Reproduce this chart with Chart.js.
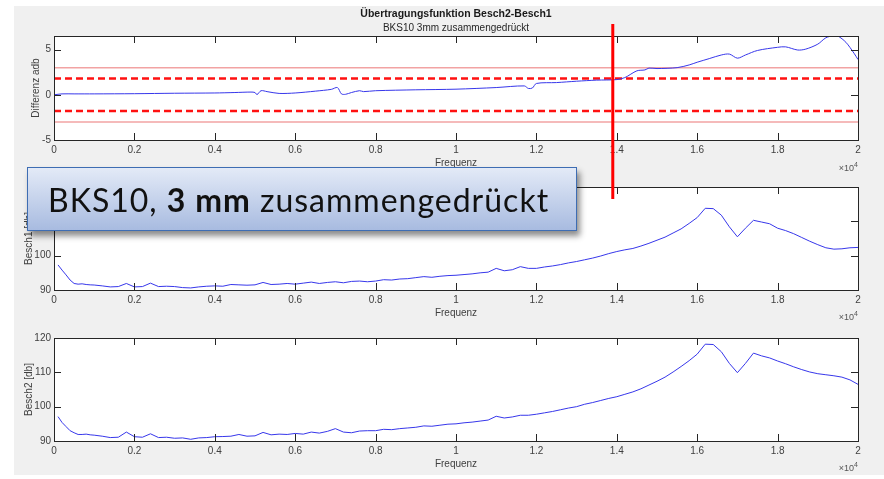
<!DOCTYPE html>
<html>
<head>
<meta charset="utf-8">
<title>Übertragungsfunktion Besch2-Besch1</title>
<script src="https://cdn.jsdelivr.net/npm/chart.js@4.4.0/dist/chart.umd.min.js"></script>
<style>
  body { margin: 0; width: 884px; height: 479px; background: #fff; position: relative; overflow: hidden;
         font-family: "Liberation Sans", Arial, sans-serif; }
  #figure { position: absolute; left: 14px; top: 6px; width: 870px; height: 469px; background: #f0f0f0; }
  canvas { position: absolute; left: 14px; }
  #c1 { top: 6px; }
  #c2 { top: 176px; }
  #c3 { top: 322px; }
  .title { position: absolute; left: 0; width: 912px; text-align: center; color: #1a1a1a; white-space: nowrap; }
  #mainTitle { top: 7px; font-size: 10.5px; font-weight: bold; line-height: 12px; }
  #subTitle { top: 22px; font-size: 10px; line-height: 12px; color: #262626; }
  .exp { position: absolute; right: 26px; font-size: 9px; line-height: 10px; color: #555; }
  .exp sup { font-size: 7px; vertical-align: 4px; }
  #note { position: absolute; left: 27px; top: 167px; width: 550px; height: 64px; box-sizing: border-box;
          border: 1.5px solid #3e6db3; background: linear-gradient(#e3eaf7, #a8bbe0);
          box-shadow: 3px 5px 6px rgba(0, 0, 0, 0.45); display: flex; align-items: center;
          padding-left: 20px; font-family: Lato, "Open Sans", sans-serif; font-size: 32px; letter-spacing: 1px;
          color: #111; white-space: nowrap; }
</style>
</head>
<body>
<div id="figure"></div>
<canvas id="c1" width="870" height="170"></canvas>
<canvas id="c2" width="870" height="146"></canvas>
<canvas id="c3" width="870" height="153"></canvas>
<div id="mainTitle" class="title">Übertragungsfunktion Besch2-Besch1</div>
<div id="subTitle" class="title">BKS10 3mm zusammengedrückt</div>
<div class="exp" style="top:160px">×10<sup>4</sup></div>
<div class="exp" style="top:309px">×10<sup>4</sup></div>
<div class="exp" style="top:460px">×10<sup>4</sup></div>
<div id="note">BKS10,&nbsp;<b>3 mm</b>&nbsp;zusammengedrückt</div>

<script>
// x axis (Hz), labels shown in units of 10^4
const xTickValues = [0, 2000, 4000, 6000, 8000, 10000, 12000, 14000, 16000, 18000, 20000];
const xTickLabels = ["0", "0.2", "0.4", "0.6", "0.8", "1", "1.2", "1.4", "1.6", "1.8", "2"];
const diffTicks = [-5, 0, 5];
const beschTicks = [90, 100, 110, 120];

// Differenz Besch2 - Besch1
const diffFreq = [0, 200, 500, 1000, 2000, 3000, 4000, 4500, 4900, 5000, 5050, 5150, 5300, 5600, 6000,
  6500, 6900, 7050, 7150, 7250, 7400, 7600, 7700, 8000, 9000, 10000, 11000, 11700, 11800, 11900,
  12000, 12500, 13000, 13500, 14000, 14200, 14500, 14700, 14800, 15000, 15500, 15800, 16000, 16300,
  16600, 16800, 17000, 17200, 17500, 18000, 18200, 18500, 18700, 19000, 19200, 19400, 19500, 19700,
  19900, 20000];
const diffValues = [0.0, 0.1, 0.1, 0.1, 0.12, 0.17, 0.2, 0.25, 0.3, 0.25, 0.02, 0.45, 0.35, 0.15, 0.2,
  0.4, 0.6, 0.8, 0.1, 0.05, 0.25, 0.45, 0.35, 0.45, 0.55, 0.62, 0.8, 0.98, 0.7, 0.75,
  1.25, 1.35, 1.5, 1.62, 1.68, 1.9, 2.65, 2.75, 2.95, 2.9, 3.0, 3.3, 3.6, 4.0,
  4.4, 4.5, 4.05, 4.4, 4.9, 5.25, 5.3, 4.95, 5.05, 5.6, 6.3, 6.55, 6.5, 5.8,
  4.6, 3.9];
const outerLimits = [3, -3];
const innerLimits = [1.8, -1.8];
const markerFreq = 13900;

// Besch1 / Besch2 spectra
const beschFreq = [100, 200, 300, 400, 500, 600, 700, 800, 900, 1000,
  1200, 1400, 1600, 1800, 2000, 2200, 2400, 2600, 2800, 3000,
  3200, 3400, 3600, 3800, 4000, 4200, 4400, 4600, 4800, 5000,
  5200, 5400, 5600, 5800, 6000, 6200, 6400, 6600, 6800, 7000,
  7200, 7400, 7600, 7800, 8000, 8200, 8400, 8600, 8800, 9000,
  9200, 9400, 9600, 9800, 10000, 10200, 10400, 10600, 10800, 11000,
  11200, 11400, 11600, 11800, 12000, 12200, 12400, 12600, 12800, 13000,
  13200, 13400, 13600, 13800, 14000, 14200, 14400, 14600, 14800, 15000,
  15200, 15400, 15600, 15800, 16000, 16200, 16400, 16600, 16800, 17000,
  17200, 17400, 17600, 17800, 18000, 18200, 18400, 18600, 18800, 19000,
  19200, 19400, 19600, 19800, 20000];
const besch1Values = [97.3, 95.8, 94.4, 92.9, 91.9, 91.7, 91.8, 91.6, 91.5, 91.45,
  91.2, 90.9, 91.0, 91.9, 90.9, 91.0, 92.0, 91.0, 91.1, 91.0,
  90.7, 90.6, 90.9, 91.1, 91.2, 91.1, 91.6, 91.5, 91.4, 91.5,
  92.2, 91.6, 91.7, 91.9, 91.7, 92.0, 92.3, 91.9, 92.2, 92.4,
  92.1, 92.5, 92.6, 92.4, 92.6, 93.0, 92.9, 93.2, 93.3, 93.6,
  93.9, 93.7, 94.0, 94.2, 94.3, 94.5, 94.7, 95.0, 95.2, 96.3,
  95.6, 95.9, 96.8, 96.3, 96.3, 96.7, 97.0, 97.4, 97.9, 98.3,
  98.8, 99.3, 99.9, 100.6, 101.2, 101.7, 102.1, 102.8, 103.6, 104.5,
  105.4, 106.6, 107.8, 109.4, 111.1, 113.8, 113.7, 111.8, 108.4, 105.5,
  108.0, 110.3, 109.8, 109.3, 108.0, 107.3, 106.4, 105.3, 104.2, 103.2,
  102.3, 101.9, 102.0, 102.3, 102.4];
const besch2Values = [97.1, 95.4, 94.2, 93.0, 92.4, 91.9, 91.9, 92.0, 91.8, 91.7,
  91.4, 91.0, 91.1, 92.6, 91.25, 91.1, 92.1, 91.0, 91.1, 90.8,
  90.9, 90.5, 90.9, 91.0, 91.25, 91.3, 91.4, 91.9, 91.4, 91.5,
  92.5, 91.8, 92.0, 91.9, 92.2, 92.0, 92.6, 92.3, 92.8, 93.6,
  92.6, 92.4, 92.9, 93.0, 93.0, 93.4, 93.3, 93.6, 93.8, 94.0,
  94.4, 94.3, 94.6, 94.9, 95.0, 95.3, 95.5, 95.8, 96.1, 97.2,
  96.7, 97.0, 97.5, 97.5, 97.8, 98.2, 98.6, 99.1, 99.6, 100.0,
  100.7, 101.2, 101.8, 102.4, 102.9, 103.6, 104.3, 105.2, 106.3, 107.4,
  108.6, 110.1, 111.7, 113.4, 115.3, 118.2, 118.1, 116.0, 112.6, 109.9,
  112.6, 115.6, 114.8, 114.2, 113.3, 112.5, 111.6, 110.8, 110.1, 109.6,
  109.3, 109.0, 108.6, 107.8, 106.5];

const axisColor = "#262626";
const textColor = "#404040";
const curveColor = "rgb(55, 55, 235)";
const tickFont = { family: "Liberation Sans", size: 10 };

function toPoints(freqs, values) {
  return freqs.map((f, i) => ({ x: f, y: values[i] }));
}

function hLine(value, color, width, dash) {
  return {
    data: [{ x: 0, y: value }, { x: 20000, y: value }],
    borderColor: color, borderWidth: width, borderDash: dash || [], tension: 0
  };
}

// white axes background, box and inward ticks like MATLAB
const plotBox = {
  id: "plotBox",
  beforeDatasetsDraw(chart) {
    const { ctx, chartArea: a } = chart;
    ctx.save();
    ctx.fillStyle = "#fff";
    ctx.fillRect(a.left, a.top, a.width, a.height);
    ctx.restore();
  },
  afterDatasetsDraw(chart) {
    const { ctx, chartArea: a, scales } = chart;
    const len = 7;
    ctx.save();
    ctx.strokeStyle = axisColor;
    ctx.lineWidth = 1;
    ctx.strokeRect(a.left + 0.5, a.top + 0.5, a.width, a.height);
    ctx.beginPath();
    scales.x.ticks.forEach(t => {
      const px = Math.round(scales.x.getPixelForValue(t.value)) + 0.5;
      ctx.moveTo(px, a.bottom); ctx.lineTo(px, a.bottom - len);
      ctx.moveTo(px, a.top); ctx.lineTo(px, a.top + len);
    });
    scales.y.ticks.forEach(t => {
      const py = Math.round(scales.y.getPixelForValue(t.value)) + 0.5;
      ctx.moveTo(a.left, py); ctx.lineTo(a.left + len, py);
      ctx.moveTo(a.right, py); ctx.lineTo(a.right - len, py);
    });
    ctx.stroke();
    ctx.restore();
  }
};

// red vertical marker drawn over the first two panels
const markerLine = {
  id: "markerLine",
  afterDraw(chart, args, opts) {
    const ctx = chart.ctx;
    const x = chart.scales.x.getPixelForValue(markerFreq);
    ctx.save();
    ctx.strokeStyle = "#ff0000";
    ctx.lineWidth = 3;
    ctx.beginPath();
    ctx.moveTo(x, opts.from);
    ctx.lineTo(x, opts.to);
    ctx.stroke();
    ctx.restore();
  }
};

function makePanel(id, cfg) {
  return new Chart(document.getElementById(id), {
    type: "line",
    data: { datasets: cfg.datasets },
    options: {
      responsive: false,
      animation: false,
      devicePixelRatio: 1,
      layout: { padding: { top: cfg.padTop, bottom: cfg.padBottom, left: 0, right: 26 } },
      plugins: {
        legend: { display: false },
        tooltip: { enabled: false },
        markerLine: cfg.marker || false
      },
      elements: { point: { radius: 0 } },
      scales: {
        x: {
          type: "linear", min: 0, max: 20000,
          afterFit: s => { s.height = 30; },
          afterBuildTicks: s => { s.ticks = xTickValues.map(v => ({ value: v })); },
          ticks: {
            callback: (v, i) => xTickLabels[i],
            autoSkip: false, maxRotation: 0, padding: 4,
            color: textColor, font: tickFont
          },
          grid: { display: false, drawTicks: false },
          border: { display: false },
          title: { display: true, text: "Frequenz", color: textColor, font: tickFont, padding: { top: 0, bottom: 1 } }
        },
        y: {
          type: "linear", min: cfg.yMin, max: cfg.yMax,
          afterFit: s => { s.width = 40; },
          afterBuildTicks: s => { s.ticks = cfg.yTicks.map(v => ({ value: v })); },
          ticks: { padding: 3, color: textColor, font: tickFont },
          grid: { display: false, drawTicks: false },
          border: { display: false },
          title: { display: true, text: cfg.yTitle, color: textColor, font: tickFont, padding: { top: cfg.titlePad, bottom: 0 } }
        }
      }
    },
    plugins: [plotBox, markerLine]
  });
}

makePanel("c1", {
  padTop: 30, padBottom: 6,
  yMin: -5, yMax: 6.5, yTicks: diffTicks, yTitle: "Differenz adb", titlePad: 16,
  marker: { from: 18, to: 170 },
  datasets: [
    { data: toPoints(diffFreq, diffValues), borderColor: curveColor, borderWidth: 1, tension: 0.3 },
    hLine(outerLimits[0], "#f2a3a3", 1.5),
    hLine(outerLimits[1], "#f2a3a3", 1.5),
    hLine(innerLimits[0], "#ff1111", 2.5, [7, 4]),
    hLine(innerLimits[1], "#ff1111", 2.5, [7, 4])
  ]
});

makePanel("c2", {
  padTop: 11, padBottom: 2,
  yMin: 90, yMax: 120, yTicks: beschTicks, yTitle: "Besch1 [db]", titlePad: 9,
  marker: { from: 0, to: 23 },
  datasets: [
    { data: toPoints(beschFreq, besch1Values), borderColor: curveColor, borderWidth: 1, tension: 0 }
  ]
});

makePanel("c3", {
  padTop: 16, padBottom: 4,
  yMin: 90, yMax: 120, yTicks: beschTicks, yTitle: "Besch2 [db]", titlePad: 9,
  datasets: [
    { data: toPoints(beschFreq, besch2Values), borderColor: curveColor, borderWidth: 1, tension: 0 }
  ]
});
</script>
</body>
</html>
